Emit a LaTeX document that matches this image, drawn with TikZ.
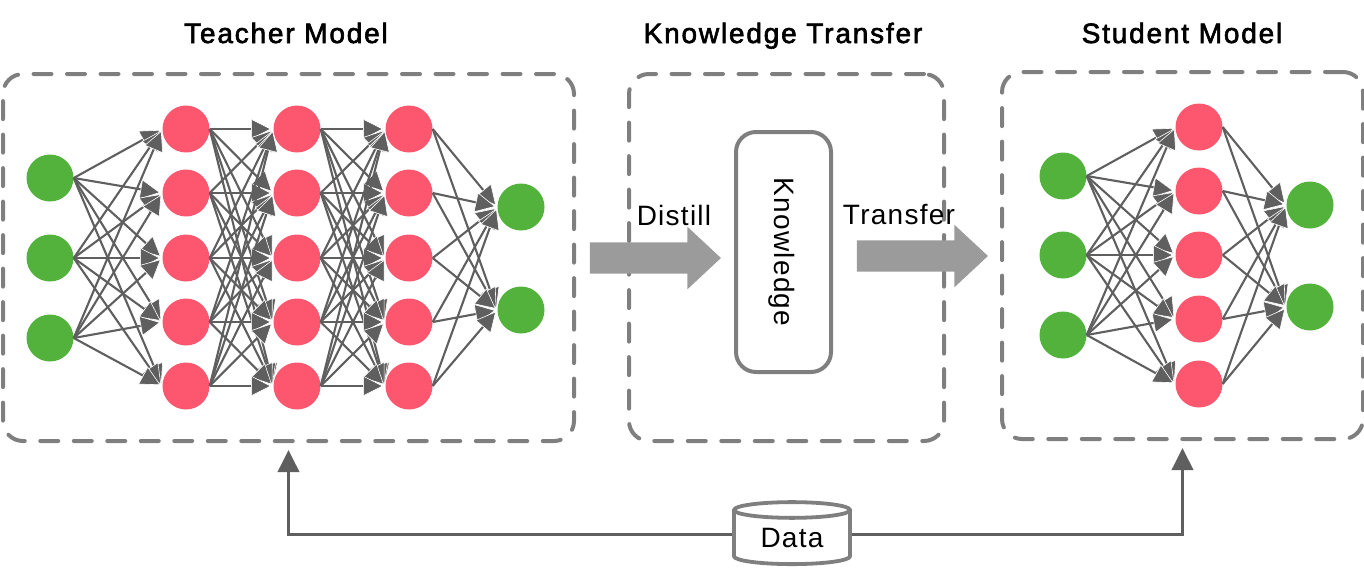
\documentclass[tikz,border=0pt]{standalone}
\usepackage{fontspec}
\setmainfont{Liberation Sans}
\newfontfamily\plainfont[LetterSpace=4.5]{Liberation Sans}
\newfontfamily\headfont[LetterSpace=6.5,FakeBold=2.2]{Liberation Sans}
\usetikzlibrary{arrows.meta,shapes.geometric,shapes.arrows}
\definecolor{nodegreen}{HTML}{52B23B}
\definecolor{nodered}{HTML}{FD5770}
\definecolor{linegray}{HTML}{5F5F5F}
\definecolor{boxgray}{HTML}{7F7F7F}
\definecolor{arrowgray}{HTML}{9B9B9B}
\begin{document}
\begin{tikzpicture}[x=1pt,y=-1pt,
		neuron/.style={circle,minimum size=47pt,inner sep=0pt},
		ingreen/.style={neuron,fill=nodegreen},
		hidred/.style={neuron,fill=nodered},
		edge/.style={draw=linegray,line width=2.1pt,shorten >=2pt,
			-{Triangle[length=20pt,width=20pt,color=white,fill=linegray,line width=0.6pt]}},
		dashbox/.style={draw=boxgray,line width=4pt,rounded corners=20pt,dash pattern=on 18pt off 15.5pt,line cap=round},
		bigarrow/.style={single arrow,fill=arrowgray,minimum height=131pt,text height=31pt,text depth=0pt,inner sep=0pt,
			single arrow head extend=15.5pt,single arrow tip angle=86,single arrow head indent=0pt},
		feed/.style={draw=linegray,line width=3.8pt,shorten >=7pt,-{Triangle[length=22pt,width=21pt]}},
		headtext/.style={font=\fontsize{28}{30}\headfont,anchor=base},
		bodytext/.style={font=\fontsize{28}{30}\plainfont}]
		\useasboundingbox (0,0) rectangle (1364,568);
		
		\node[dashbox,minimum width=571pt,minimum height=367pt] (teacher) at (288.5,257.5) {};
		\node[dashbox,minimum width=315pt,minimum height=367pt] (middle) at (786.5,257.5) {};
		\node[dashbox,minimum width=361pt,minimum height=367pt] (student) at (1182.5,255.5) {};
		
		\node[headtext] (teachertitle) at (286,43) {Teacher Model};
		\node[headtext] (middletitle) at (783,43) {Knowledge Transfer};
		\node[headtext] (studenttitle) at (1182,43) {Student Model};
		
		% teacher net
		\foreach \i/\y in {1/178,2/258,3/338}
			\node[ingreen] (ti\i) at (50,\y) {};
		\foreach \l/\x in {a/186,b/297,c/409}
			\foreach \i/\y in {1/129,2/193,3/258,4/322,5/386}
				\node[hidred] (t\l\i) at (\x,\y) {};
		\foreach \i/\y in {1/207,2/310}
			\node[ingreen] (to\i) at (521,\y) {};
		\foreach \i in {1,2,3}
			\foreach \j in {1,...,5}
				\draw[edge] (ti\i.east) -- (ta\j.west);
		\foreach \i in {1,...,5}
			\foreach \j in {1,...,5} {
				\draw[edge] (ta\i.east) -- (tb\j.west);
				\draw[edge] (tb\i.east) -- (tc\j.west);
			}
		\foreach \i in {1,...,5}
			\foreach \j in {1,2}
				\draw[edge] (tc\i.east) -- (to\j.west);
		
		% student net
		\foreach \i/\y in {1/176,2/255,3/335}
			\node[ingreen] (si\i) at (1063,\y) {};
		\foreach \i/\y in {1/127,2/191,3/255,4/319,5/384}
			\node[hidred] (sa\i) at (1199,\y) {};
		\foreach \i/\y in {1/205,2/307}
			\node[ingreen] (so\i) at (1310,\y) {};
		\foreach \i in {1,2,3}
			\foreach \j in {1,...,5}
				\draw[edge] (si\i.east) -- (sa\j.west);
		\foreach \i in {1,...,5}
			\foreach \j in {1,2}
				\draw[edge] (sa\i.east) -- (so\j.west);
		
		\node[bigarrow] (distill) at (647,258) {};
		\node[bigarrow] (transfer) at (914,256) {};
		\node[bodytext] (distilltext) at (674,215) {Distill};
		\node[bodytext] (transfertext) at (899,215) {Transfer};
		
		\node[draw=boxgray,line width=4pt,rounded corners=20pt,minimum width=95pt,minimum height=240pt] (knowledge) at (783.5,252) {};
		\node[bodytext,rotate=-90] (knowledgetext) at (782,252) {Knowledge};
		
		% data at the bottom
		\node[cylinder,shape border rotate=90,aspect=0.25,draw=boxgray,line width=3.8pt,fill=white,
			minimum width=116pt,minimum height=62pt,inner sep=0pt,bodytext] (data) at (792,538) {Data};
		\draw[feed] ([yshift=3.5pt]data.west) -| (teacher.south);
		\draw[feed] ([yshift=3.5pt]data.east) -| (student.south);
		\end{tikzpicture}
\end{document}
